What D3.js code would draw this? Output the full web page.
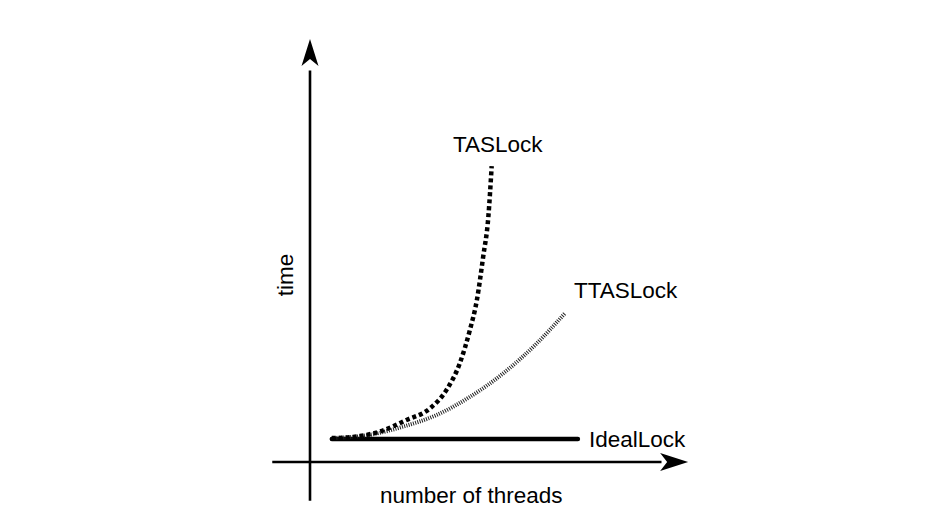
<!DOCTYPE html>
<html><head><meta charset="utf-8">
<script src="https://cdn.jsdelivr.net/npm/d3@7"></script>
<style>body{margin:0;background:#fff}svg{display:block}text{font-family:"Liberation Sans",Arial,sans-serif;fill:#000}</style>
</head><body>
<script>
// Data (x: threads units 0-100, y: time units 0-100)
const seriesNames = ["TASLock", "TTASLock", "IdealLock"];
const tasX = [5.9, 11.7, 18.9, 26.1, 32.4, 36.9, 40.5, 43.2, 45.1, 46.8, 48.2, 49.1];
const tasY = [5.8, 6.1, 7.4, 10.2, 13.0, 17.5, 24.0, 32.0, 39.3, 49.8, 59.5, 71.8];
const ttasX = [5.9, 16.2, 25.2, 34.2, 43.2, 52.2, 61.3, 68.9];
const ttasY = [5.8, 6.6, 8.6, 11.4, 15.8, 21.5, 28.8, 36.1];
const idealX = [5.9, 72.4];
const idealY = [5.6, 5.6];
const axisTitles = ["number of threads", "time"];

const W = 948, H = 518;
const svg = d3.select("body").append("svg").attr("width", W).attr("height", H);
const x = d3.scaleLinear().domain([0, 100]).range([310, 680]);
const y = d3.scaleLinear().domain([0, 100]).range([462, 50]);

// axes
const ax = svg.append("g").attr("stroke", "#000").attr("stroke-width", 2.6);
ax.append("line").attr("x1", x(-10.2)).attr("x2", x(95)).attr("y1", y(0)).attr("y2", y(0));
ax.append("line").attr("x1", x(0)).attr("x2", x(0)).attr("y1", y(-9.4)).attr("y2", y(95));
// arrowheads
const xt = x(102.2), yt = y(0);
svg.append("path").attr("d", `M${xt},${yt} L${xt-28},${yt-9} L${xt-21},${yt} L${xt-28},${yt+9} Z`).attr("fill", "#000");
const ux = x(0), uy = y(102.7);
svg.append("path").attr("d", `M${ux},${uy} L${ux-8.5},${uy+27} L${ux},${uy+20} L${ux+8.5},${uy+27} Z`).attr("fill", "#000");

const line = d3.line().x(d => x(d[0])).y(d => y(d[1])).curve(d3.curveMonotoneX);
const zip = (a, b) => a.map((v, i) => [v, b[i]]);

svg.append("path").datum(zip(idealX, idealY)).attr("d", line)
  .attr("fill", "none").attr("stroke", "#000").attr("stroke-width", 4.5).attr("stroke-linecap", "round");
svg.append("path").datum(zip(ttasX, ttasY)).attr("d", line)
  .attr("fill", "none").attr("stroke", "#222").attr("stroke-width", 4).attr("stroke-dasharray", "1,1.3");
svg.append("path").datum(zip(tasX, tasY)).attr("d", line)
  .attr("fill", "none").attr("stroke", "#000").attr("stroke-width", 4.5).attr("stroke-dasharray", "4,3");

// labels
const fs = 22.5;
svg.append("text").attr("x", 453).attr("y", 152).attr("font-size", fs).text(seriesNames[0]);
svg.append("text").attr("x", 574).attr("y", 298).attr("font-size", fs).text(seriesNames[1]);
svg.append("text").attr("x", 589).attr("y", 447).attr("font-size", fs).text(seriesNames[2]);
svg.append("text").attr("x", 380).attr("y", 503).attr("font-size", fs).text(axisTitles[0]);
svg.append("text").attr("transform", "translate(293,275) rotate(-90)").attr("text-anchor", "middle")
  .attr("font-size", fs).text(axisTitles[1]);
</script>
</body></html>
